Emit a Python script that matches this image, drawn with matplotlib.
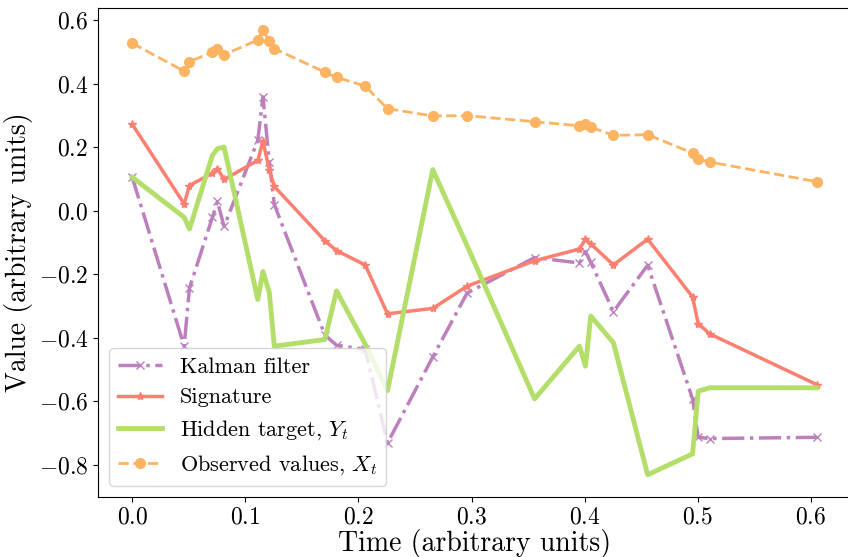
import numpy as np
import matplotlib
matplotlib.use("Agg")
import matplotlib.pyplot as plt

plt.rcParams['font.family'] = 'serif'
plt.rcParams['font.serif'] = ['cmr10']
plt.rcParams['mathtext.fontset'] = 'cm'
plt.rcParams['axes.formatter.use_mathtext'] = True
plt.rcParams['font.size'] = 16

# time stamps shared by all series
t = [0.0, 0.0459, 0.0506, 0.0709, 0.0753, 0.0812, 0.111, 0.1156, 0.1212, 0.1256,
     0.1703, 0.1806, 0.2059, 0.2257, 0.2657, 0.296, 0.3557, 0.3954, 0.4007, 0.4054,
     0.4254, 0.4557, 0.4954, 0.5004, 0.5104, 0.6052]

kalman = [0.105, -0.427, -0.244, -0.021, 0.029, -0.050, 0.221, 0.358, 0.153, 0.019,
          -0.392, -0.424, -0.437, -0.732, -0.461, -0.260, -0.148, -0.165, -0.129, -0.163,
          -0.318, -0.172, -0.593, -0.714, -0.718, -0.714]

signature = [0.272, 0.021, 0.079, 0.118, 0.132, 0.098, 0.158, 0.218, 0.129, 0.076,
             -0.095, -0.126, -0.171, -0.325, -0.308, -0.238, -0.158, -0.121, -0.090, -0.105,
             -0.171, -0.090, -0.272, -0.356, -0.388, -0.548]

hidden = [0.105, -0.021, -0.058, 0.174, 0.195, 0.200, -0.280, -0.192, -0.258, -0.427,
          -0.406, -0.253, -0.42, -0.567, 0.129, -0.11, -0.593, -0.427, -0.490, -0.332,
          -0.416, -0.832, -0.766, -0.569, -0.558, -0.558]

observed = [0.527, 0.439, 0.469, 0.499, 0.508, 0.491, 0.537, 0.568, 0.533, 0.510,
            0.436, 0.420, 0.392, 0.321, 0.298, 0.299, 0.280, 0.267, 0.273, 0.263,
            0.237, 0.239, 0.181, 0.162, 0.153, 0.091]

fig = plt.figure(figsize=(8.48, 5.57), dpi=100)
ax = fig.add_axes([98/848, 60/557, 753/848, 489/557])

ax.plot(t, kalman, '-.', marker='x', color='#bc80bd', lw=2.5, ms=6, label='Kalman filter')
ax.plot(t, signature, '-', marker='*', color='#fb8072', lw=2.5, ms=6, label='Signature')
ax.plot(t, hidden, '-', color='#b3de69', lw=3.5, label='Hidden target, $Y_t$')
ax.plot(t, observed, '--', marker='o', color='#fdb462', lw=2, ms=7, label='Observed values, $X_t$')

ax.tick_params(labelsize=17)
ax.set_xlabel('Time (arbitrary units)', fontsize=20, labelpad=0)
ax.set_ylabel('Value (arbitrary units)', fontsize=20, labelpad=4)
ax.legend(loc='lower left', fontsize=16)

fig.savefig('out.png', dpi=100)
